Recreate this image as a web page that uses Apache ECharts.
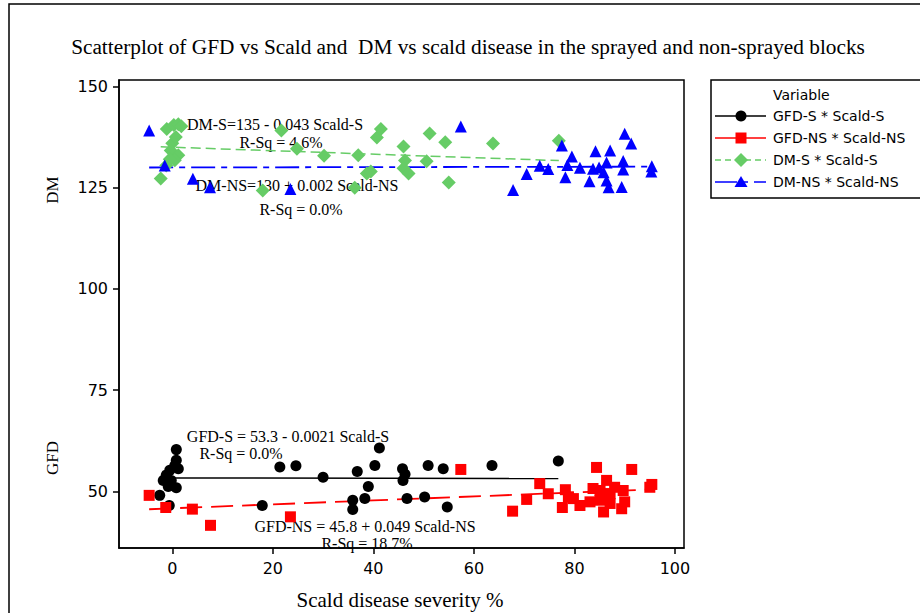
<!DOCTYPE html>
<html><head><meta charset="utf-8">
<script src="https://cdn.jsdelivr.net/npm/echarts@6/dist/echarts.min.js"></script>
<style>html,body{margin:0;padding:0;background:#fff}#c{width:920px;height:613px}</style>
</head><body><div id="c"></div>
<script>
// ---- data ----
const xTicks = [0, 20, 40, 60, 80, 100];
const yTicks = [50, 75, 100, 125, 150];
const seriesNames = ['GFD-S * Scald-S', 'GFD-NS * Scald-NS', 'DM-S * Scald-S', 'DM-NS * Scald-NS'];

const gfdS = [[0.8,60.3],[0.8,57.7],[0.5,56.4],[1.2,55.6],[-0.5,55.2],[-1.2,54.0],[-1.8,52.7],[-0.2,52.7],[0.8,50.9],[-0.8,51.2],[-2.5,49.0],[-0.6,46.5],[17.9,46.5],[21.4,56.0],[24.6,56.3],[30.0,53.5],[35.9,47.8],[35.9,45.5],[36.8,54.9],[38.3,48.2],[39.0,51.2],[40.3,56.4],[41.2,60.7],[45.8,55.6],[46.3,54.2],[45.9,52.7],[46.7,48.2],[50.9,56.4],[50.2,48.6],[53.9,55.6],[54.7,46.1],[63.6,56.4],[76.8,57.5]];
const gfdNS = [[-4.6,49.0],[-1.3,46.0],[4.0,45.6],[7.6,41.6],[23.5,43.7],[57.4,55.4],[67.7,45.1],[70.5,48.0],[73.1,51.9],[74.8,49.4],[77.6,46.0],[78.2,50.4],[78.8,48.6],[79.8,48.2],[81.1,46.5],[83.1,47.4],[83.7,50.7],[84.4,55.9],[85.1,50.2],[85.1,47.8],[85.8,44.9],[86.4,52.7],[86.1,49.4],[87.1,47.0],[87.1,49.4],[88.0,51.0],[89.4,45.7],[89.7,50.2],[90.0,47.4],[91.4,55.4],[95.0,51.0],[95.4,51.7]];
const dmS = [[-2.3,127.3],[-1.2,130.5],[-1.1,139.5],[0.3,140.5],[1.2,140.7],[1.8,140.2],[0.0,136.0],[0.7,137.5],[-0.3,134.2],[1.2,133.0],[0.5,131.8],[-0.5,132.0],[18.0,124.3],[21.7,139.1],[24.8,134.6],[30.2,132.9],[36.3,125.0],[37.0,133.0],[38.7,128.5],[39.5,129.0],[40.7,137.4],[41.5,139.5],[46.0,135.2],[46.3,131.7],[46.0,129.8],[47.0,128.5],[50.6,131.5],[51.2,138.4],[54.3,136.2],[55.0,126.3],[63.8,135.9],[76.9,136.6]];
const dmNS = [[-4.6,139.1],[-1.5,130.5],[4.1,127.2],[7.5,125.1],[23.5,124.7],[57.4,140.1],[67.8,124.4],[70.5,128.4],[73.1,130.4],[74.8,129.6],[77.5,135.4],[78.2,127.6],[78.6,130.6],[79.5,132.7],[81.1,129.9],[83.0,126.6],[83.7,129.7],[84.2,134.0],[84.9,130.0],[85.8,128.8],[86.4,131.2],[86.4,126.8],[86.8,125.1],[87.1,134.2],[89.4,125.2],[89.7,131.6],[89.7,129.5],[90.0,138.3],[91.3,135.9],[95.4,130.3],[95.3,129.0]];

// regression coefficients [intercept, slope] as printed on the chart
const fitGfdS = [53.3, -0.0021];
const fitGfdNS = [45.8, 0.049];
const fitDmS = [135, -0.043];
const fitDmNS = [130, 0.002];

const annotations = [
  ['DM-S=135 - 0.043 Scald-S', 'R-Sq = 4.6%'],
  ['DM-NS=130 + 0.002 Scald-NS', 'R-Sq = 0.0%'],
  ['GFD-S = 53.3 - 0.0021 Scald-S', 'R-Sq = 0.0%'],
  ['GFD-NS = 45.8 + 0.049 Scald-NS', 'R-Sq = 18.7%']
];
const titleText = 'Scatterplot of GFD vs Scald and  DM vs scald disease in the sprayed and non-sprayed blocks';
const xName = 'Scald disease severity %';

// ---- build ----
function fitLine(pts, f) {
  const xs = pts.map(p => p[0]);
  const a = Math.min(...xs), b = Math.max(...xs);
  return [[a, f[0] + f[1] * a], [b, f[0] + f[1] * b]];
}
const SERIF = 'Liberation Serif, Times New Roman, serif';
const SANS = 'DejaVu Sans, Verdana, sans-serif';
const colors = ['#000000', '#ff0000', '#66cc66', '#0000ff'];

const chart = echarts.init(document.getElementById('c'), null, {renderer: 'svg'});

function txt(x, y, s, size, opts) {
  return Object.assign({type: 'text', x: x, y: y, z: 1, style: {text: s, font: size + 'px ' + SERIF, fill: '#000', textAlign: 'center', textVerticalAlign: 'middle'}}, opts || {});
}
const L = {x: 711, y: 80};
const legendRows = [116, 138, 160, 182];
const legendDash = [null, null, [6, 4], [22, 6, 5, 6]];
const legendSymbols = [
  {type: 'circle', shape: {cx: 741, cy: 0, r: 5.5}},
  {type: 'rect', shape: {x: 735.5, y: -5.5, width: 11, height: 11}},
  {type: 'polygon', shape: {points: [[741, -7], [748, 0], [741, 7], [734, 0]]}},
  {type: 'polygon', shape: {points: [[741, -6], [747.5, 5], [734.5, 5]]}}
];
const graphics = [
  {type: 'rect', shape: {x: 9, y: 4, width: 1000, height: 1000}, style: {fill: 'none', stroke: '#000', lineWidth: 1.5}, silent: true},
  txt(468, 47, titleText, 21.3),
  txt(400, 600, xName, 21),
  txt(52, 190, 'DM', 17, {rotation: Math.PI / 2}),
  txt(52, 458, 'GFD', 17, {rotation: Math.PI / 2}),
  txt(275, 124, annotations[0][0], 16),
  txt(281, 142, annotations[0][1], 16),
  txt(297, 185, annotations[1][0], 16),
  txt(301, 209, annotations[1][1], 16),
  txt(288, 436, annotations[2][0], 16),
  txt(241, 453, annotations[2][1], 16),
  txt(365, 526, annotations[3][0], 16),
  txt(367, 543, annotations[3][1], 16),
  {type: 'rect', shape: {x: L.x, y: L.y, width: 300, height: 118}, style: {fill: '#fff', stroke: '#000', lineWidth: 1.5}, z: 5},
  {type: 'text', x: 773, y: 95, z: 6, style: {text: 'Variable', font: '14px ' + SANS, fill: '#000', textVerticalAlign: 'middle'}}
];
seriesNames.forEach((n, i) => {
  const y = legendRows[i];
  graphics.push({type: 'line', z: 6, shape: {x1: 715, y1: y, x2: 766, y2: y}, style: {stroke: colors[i], lineWidth: 1.5, lineDash: legendDash[i]}});
  const s = JSON.parse(JSON.stringify(legendSymbols[i]));
  s.y = y; s.z = 7; s.style = {fill: colors[i]};
  graphics.push(s);
  graphics.push({type: 'text', x: 773, y: y, z: 6, style: {text: n, font: '14px ' + SANS, fill: '#000', textVerticalAlign: 'middle'}});
});

function scat(name, data, symbol, size, color) {
  return {type: 'scatter', name: name, data: data, symbol: symbol, symbolSize: size, itemStyle: {color: color, opacity: 1}, z: 3, emphasis: {disabled: true}};
}
function fit(data, color, width, dash) {
  return {type: 'line', data: data, symbol: 'none', lineStyle: {color: color, width: width, type: dash}, z: 2, silent: true};
}

chart.setOption({
  animation: false,
  grid: {left: 119, top: 80, right: 236, bottom: 65, show: true, borderColor: '#000', borderWidth: 1.5, backgroundColor: 'transparent'},
  xAxis: {
    type: 'value', min: -10.6, max: 101.8,
    axisLine: {show: true, onZero: false, lineStyle: {color: '#000', width: 1.5}},
    axisTick: {show: true, customValues: xTicks, length: 6, lineStyle: {color: '#000', width: 1.5}},
    axisLabel: {customValues: xTicks, fontSize: 16, fontFamily: SANS, color: '#000', margin: 12},
    splitLine: {show: false}
  },
  yAxis: {
    type: 'value', min: 36, max: 151.6,
    axisLine: {show: true, onZero: false, lineStyle: {color: '#000', width: 1.5}},
    axisTick: {show: true, customValues: yTicks, length: 6, lineStyle: {color: '#000', width: 1.5}},
    axisLabel: {customValues: yTicks, fontSize: 16, fontFamily: SANS, color: '#000', margin: 11},
    splitLine: {show: false}
  },
  graphic: graphics,
  series: [
    fit(fitLine(gfdS, fitGfdS), colors[0], 1.5, 'solid'),
    fit(fitLine(gfdNS, fitGfdNS), colors[1], 1.8, [22, 9]),
    fit(fitLine(dmS, fitDmS), colors[2], 1.5, [10, 5]),
    fit(fitLine(dmNS, fitDmNS), colors[3], 1.8, [24, 6, 6, 6]),
    scat(seriesNames[0], gfdS, 'circle', 11, colors[0]),
    scat(seriesNames[1], gfdNS, 'rect', 11, colors[1]),
    scat(seriesNames[2], dmS, 'diamond', 14, colors[2]),
    scat(seriesNames[3], dmNS, 'triangle', 12, colors[3])
  ]
});
</script></body></html>
